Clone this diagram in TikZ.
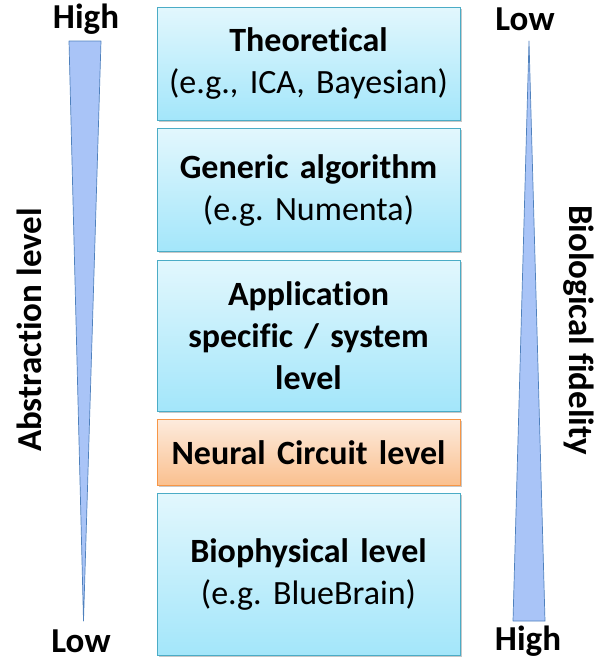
\documentclass[tikz,border=0pt]{standalone}
\usepackage{fontspec}
\setmainfont{Carlito}[Ligatures=NoCommon]
\usepackage{tikz}
\usetikzlibrary{positioning}
\definecolor{LevelTop}{HTML}{E2F7FD}
\definecolor{LevelBot}{HTML}{A3E6FA}
\definecolor{LevelLine}{HTML}{4BACC6}
\definecolor{CircTop}{HTML}{FDEBDD}
\definecolor{CircBot}{HTML}{FAC08F}
\definecolor{CircLine}{HTML}{F79646}
\definecolor{WedgeFill}{HTML}{A9C4F7}
\definecolor{WedgeLine}{HTML}{4F81BD}
\definecolor{ShadowGrey}{HTML}{C8C8C8}
\frenchspacing

\begin{document}
\begin{tikzpicture}[x=1pt,y=-1pt,node distance=7.5pt]
  \tikzstyle{lvl}=[draw=LevelLine,line width=0.8pt,top color=LevelTop,bottom color=LevelBot,
    minimum width=303pt,text width=295pt,align=center,inner sep=0pt,
    font=\fontsize{34}{42}\selectfont,
    preaction={fill=ShadowGrey,transform canvas={xshift=1.5pt,yshift=-1.5pt}}]
  \tikzstyle{circ}=[lvl,draw=CircLine,top color=CircTop,bottom color=CircBot]
  \tikzstyle{tag}=[font=\fontsize{35}{40}\selectfont\bfseries,inner sep=0pt]
  \tikzstyle{wedge}=[draw=WedgeLine,fill=WedgeFill,line width=0.7pt,line join=round]
  \useasboundingbox (0,0) rectangle (599,662);
  % levels, top to bottom
  \node[lvl,minimum height=113pt,anchor=north] (theo) at (308.5,7)
    {\textbf{Theoretical}\\(e.g., ICA, Bayesian)};
  \node[lvl,minimum height=123pt,below=of theo] (gen)
    {\textbf{Generic algorithm}\\(e.g. Numenta)};
  \node[lvl,minimum height=151pt,below=of gen] (app)
    {\textbf{Application}\\\textbf{specific / system}\\\textbf{level}};
  \node[circ,minimum height=66pt,below=of app] (circ)
    {\textbf{Neural Circuit level}};
  \node[lvl,minimum height=162pt,below=of circ] (bio)
    {\textbf{Biophysical level}\\(e.g. BlueBrain)};
  % abstraction wedge
  \draw[wedge] (69,41) -- (101,41) -- (83.5,621) -- cycle;
  \node[tag] (absHi) at (86,19) {High};
  \node[tag] (absLo) at (81,641) {Low};
  \node[tag,rotate=90] (absLbl) at (29,330) {Abstraction level};
  % fidelity wedge
  \draw[wedge] (529,41) -- (545,621) -- (513,621) -- cycle;
  \node[tag] (fidLo) at (525,19) {Low};
  \node[tag] (fidHi) at (528,641) {High};
  \node[tag,rotate=-90] (fidLbl) at (579,330) {Biological fidelity};
\end{tikzpicture}
\end{document}
